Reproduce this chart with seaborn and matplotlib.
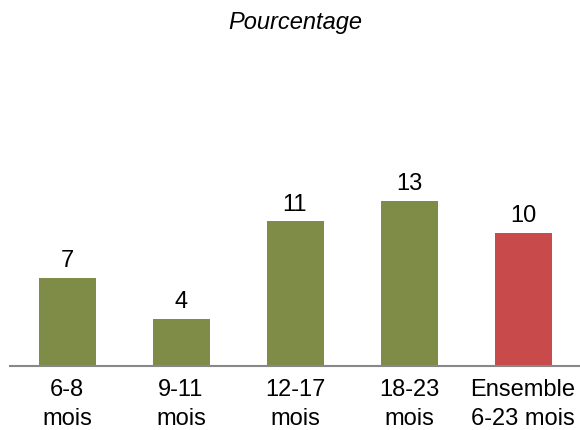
import matplotlib
matplotlib.use("Agg")
import matplotlib.pyplot as plt
import seaborn as sns

categories = ["6-8\nmois", "9-11\nmois", "12-17\nmois", "18-23\nmois", "Ensemble\n6-23 mois"]
values = [6.9, 3.7, 11.3, 12.9, 10.4]
colors = ["#7F8C48", "#7F8C48", "#7F8C48", "#7F8C48", "#C94A4A"]

sns.set_style("white")
plt.rcParams["font.family"] = ["Liberation Sans", "DejaVu Sans"]
plt.rcParams["text.color"] = "black"
plt.rcParams["xtick.color"] = "black"

fig = plt.figure(figsize=(5.8, 4.3), dpi=100)
ax = fig.add_axes([10 / 580, 1 - 366 / 430, 570 / 580, 320 / 430])

sns.barplot(x=categories, y=values, hue=categories, palette=colors, legend=False,
            width=0.5, saturation=1, linewidth=0, ax=ax)

for c in ax.containers:
    ax.bar_label(c, fmt="%.0f", fontsize=17, padding=4, color="black")

ax.set_ylim(0, 25)
ax.set_xlim(-0.5, 4.5)
ax.set_yticks([])
ax.set_ylabel("")
for s in ["top", "right", "left"]:
    ax.spines[s].set_visible(False)
ax.spines["bottom"].set_color("#888888")
ax.spines["bottom"].set_linewidth(1.5)
ax.tick_params(axis="x", length=0, pad=9, labelsize=17, labelcolor="black")
for lab in ax.get_xticklabels():
    lab.set_linespacing(1.45)

fig.text(295 / 580, 1 - 22 / 430, "Pourcentage", ha="center", va="center",
         fontsize=17, style="italic", color="black")

fig.savefig("out.png", dpi=100)
